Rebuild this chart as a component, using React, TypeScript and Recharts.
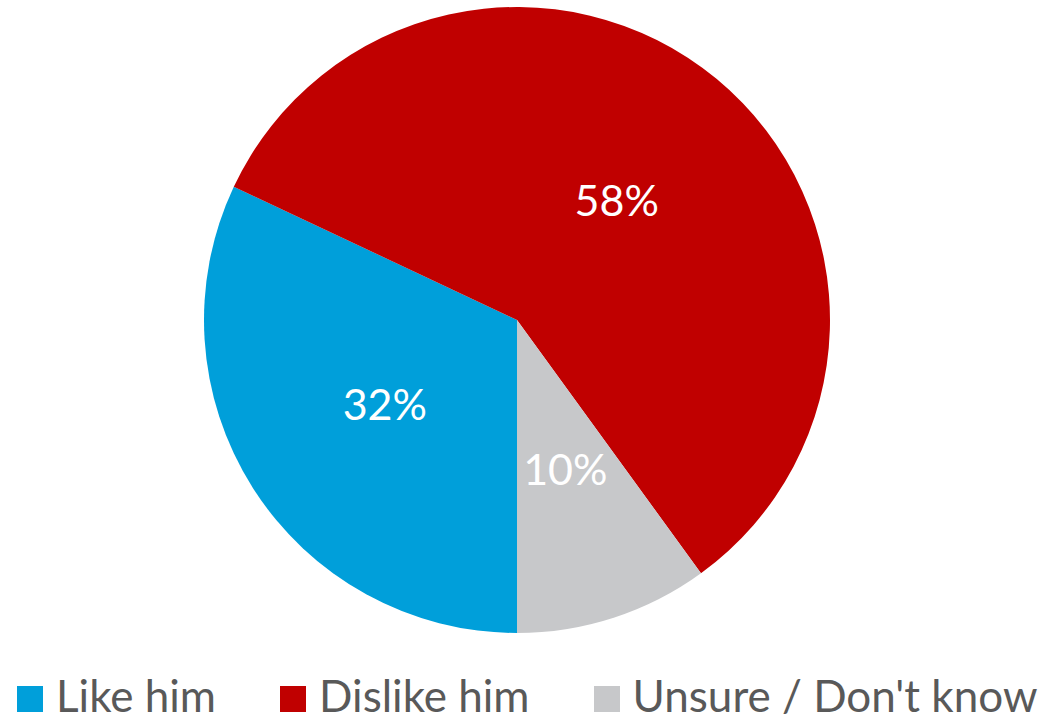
import React from 'react';
import { PieChart, Pie, Cell, Legend } from 'recharts';

const categories = ['Like him', 'Dislike him', "Unsure / Don't know"];
const shares = [32, 58, 10];
const colors = ['#009FDA', '#C00000', '#C7C8CA'];

const data = categories.map((name, i) => ({ name, value: shares[i] }));

const RADIAN = Math.PI / 180;

const renderLabel = (props: any) => {
  const { cx, cy, midAngle, outerRadius, value } = props;
  const r = outerRadius * 0.5;
  const x = cx + r * Math.cos(-midAngle * RADIAN);
  const y = cy + r * Math.sin(-midAngle * RADIAN);
  return (
    <text
      x={x}
      y={y}
      fill="#fff"
      textAnchor="middle"
      dominantBaseline="central"
      fontSize={43}
      fontFamily="Lato, sans-serif"
    >
      {value}%
    </text>
  );
};

const renderLegend = () => (
  <div
    style={{
      display: 'flex',
      fontFamily: 'Lato, sans-serif',
      fontSize: 44,
      lineHeight: '48px',
      height: 48,
      color: '#595959',
    }}
  >
    {categories.map((name, i) => (
      <div key={name} style={{ display: 'flex', alignItems: 'center', marginLeft: i === 0 ? 17 : 64 }}>
        <span style={{ display: 'inline-block', width: 26, height: 26, background: colors[i], marginRight: 13, marginTop: 8 }} />
        <span>{name}</span>
      </div>
    ))}
  </div>
);

const App = () => {
  return (
    <div style={{ position: 'absolute', left: 0, top: 0 }}>
      <PieChart width={1041} height={719} margin={{ top: 0, right: 0, bottom: 0, left: 0 }}>
        <Pie
          data={data}
          dataKey="value"
          nameKey="name"
          cx={517}
          cy={320}
          outerRadius={313}
          startAngle={-90}
          endAngle={-450}
          stroke="none"
          label={renderLabel}
          labelLine={false}
          isAnimationActive={false}
        >
          {data.map((d, i) => (
            <Cell key={d.name} fill={colors[i]} />
          ))}
        </Pie>
        <Legend
          verticalAlign="bottom"
          align="left"
          content={renderLegend}
          wrapperStyle={{ left: 0, top: 671, width: 1041, height: 48 }}
        />
      </PieChart>
    </div>
  );
};

export default App;
